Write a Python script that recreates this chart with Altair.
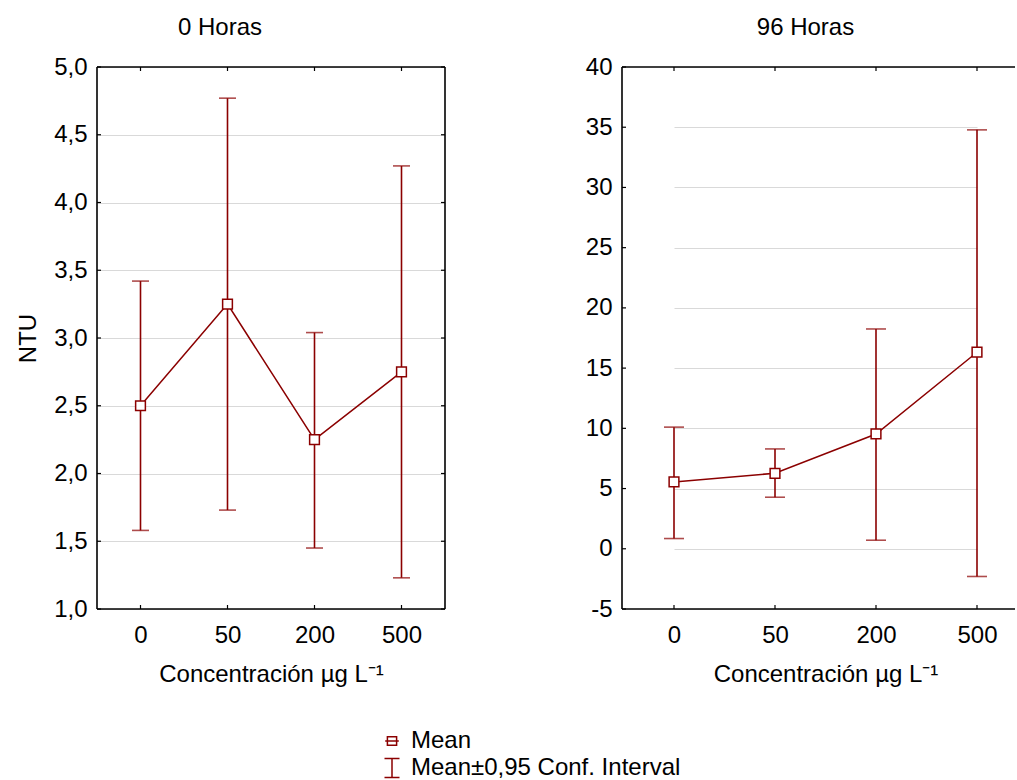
import altair as alt
import pandas as pd

# ---- data ----
conc = ["0", "50", "200", "500"]

mean_0h = [2.50, 3.25, 2.25, 2.75]
low_0h = [1.58, 1.73, 1.45, 1.23]
high_0h = [3.42, 4.77, 3.04, 4.27]

mean_96h = [5.55, 6.27, 9.53, 16.32]
low_96h = [0.85, 4.28, 0.71, -2.30]
high_96h = [10.10, 8.29, 18.25, 34.78]

yticks_0h = [1.0, 1.5, 2.0, 2.5, 3.0, 3.5, 4.0, 4.5, 5.0]
yticks_96h = [-5, 0, 5, 10, 15, 20, 25, 30, 35, 40]

legend_entries = ["Mean", "Mean±0,95 Conf. Interval"]

RED = "#8b0000"
FONT = "Liberation Sans"
FS = 24
H = 542
XTITLE = "Concentración µg L⁻¹"
PAD_L = 16
PAD_T = 16

mean_path = "M-0.68,0H0.68M-0.46,-0.42H0.46V0.42H-0.46Z"
err_path = "M-0.75,-0.95H0.75M0,-0.95V0.95M-0.75,0.95H0.75"


def panel(mean, low, high, title, tdx, yticks, fmt, width, xrange, cap, ytitle,
          right_border, with_legend):
    df = pd.DataFrame({"c": conc, "m": mean, "lo": low, "hi": high})
    if xrange is None:
        xs = alt.Scale(type="point", padding=0.5, domain=conc)
    else:
        xs = alt.Scale(type="point", padding=0, domain=conc, range=xrange)
    ys = alt.Scale(domain=[yticks[0], yticks[-1]], nice=False, zero=False)
    lbl = "replace(replace(datum.label, '.', ','), '\u2212', '-')"
    yaxis = alt.Axis(values=yticks, format=fmt, labelExpr=lbl, tickSize=0,
                     labelPadding=10, grid=True, gridColor="#d9d9d9",
                     gridWidth=1, domain=False,
                     title=ytitle if ytitle else None, titlePadding=13)
    xaxis = alt.Axis(tickSize=0, labelPadding=14, labelAngle=0, domain=False,
                     title=XTITLE, titlePadding=15, grid=False)
    base = alt.Chart(df)
    x = alt.X("c:O", scale=xs, axis=xaxis, sort=conc)

    rules = base.mark_rule(color=RED, strokeWidth=1.6).encode(
        x=x, y=alt.Y("lo:Q", scale=ys, axis=yaxis), y2="hi:Q")
    cap_lo = base.mark_tick(color=RED, thickness=1.6, size=cap, orient="horizontal").encode(
        x=x, y=alt.Y("lo:Q", scale=ys))
    cap_hi = base.mark_tick(color=RED, thickness=1.6, size=cap, orient="horizontal").encode(
        x=x, y=alt.Y("hi:Q", scale=ys))
    line = base.mark_line(color=RED, strokeWidth=1.5).encode(
        x=x, y=alt.Y("m:Q", scale=ys))
    pts = base.mark_point(shape="square", size=95, filled=True, fill="white",
                          stroke=RED, strokeWidth=1.5, opacity=1).encode(
        x=x, y=alt.Y("m:Q", scale=ys))

    # inward ticks on the frame
    tdf = pd.DataFrame({"v": yticks})
    ytick_l = alt.Chart(tdf).mark_rule(color="black", strokeWidth=1.2).encode(
        y=alt.Y("v:Q", scale=ys), x=alt.value(0), x2=alt.value(4))
    xtick_b = base.mark_rule(color="black", strokeWidth=1.2).encode(
        x=x, y=alt.value(H - 4), y2=alt.value(H))
    xtick_t = base.mark_rule(color="black", strokeWidth=1.2).encode(
        x=x, y=alt.value(0), y2=alt.value(4))

    # frame
    one = alt.Chart(pd.DataFrame({"k": [0]}))
    fl = one.mark_rule(color="black", strokeWidth=1.6).encode(
        x=alt.value(0), y=alt.value(0), y2=alt.value(H))
    ft = one.mark_rule(color="black", strokeWidth=1.6).encode(
        x=alt.value(0), x2=alt.value(width), y=alt.value(0))
    fb = one.mark_rule(color="black", strokeWidth=1.6).encode(
        x=alt.value(0), x2=alt.value(width), y=alt.value(H))

    layers = [ytick_l, xtick_b, xtick_t, fl, ft, fb]
    if right_border:
        ytick_r = alt.Chart(tdf).mark_rule(color="black", strokeWidth=1.2).encode(
            y=alt.Y("v:Q", scale=ys), x=alt.value(width - 4), x2=alt.value(width))
        fr = one.mark_rule(color="black", strokeWidth=1.6).encode(
            x=alt.value(width), y=alt.value(0), y2=alt.value(H))
        layers += [ytick_r, fr]
    layers += [rules, cap_lo, cap_hi, line, pts]

    if with_legend:
        ldf = pd.DataFrame({"s": legend_entries})
        leg = alt.Chart(ldf).mark_point(opacity=0, color=RED, filled=False).encode(
            x=alt.value(0), y=alt.value(0),
            shape=alt.Shape("s:N", scale=alt.Scale(domain=legend_entries,
                                                    range=[mean_path, err_path]),
                            legend=alt.Legend(title=None, orient="none",
                                              legendX=283, legendY=662,
                                              padding=0,
                                              labelFont=FONT, labelFontSize=FS,
                                              labelColor="black", labelLimit=0,
                                              symbolSize=400, symbolStrokeColor=RED,
                                              symbolFillColor="transparent",
                                              symbolStrokeWidth=1.5, symbolOpacity=1,
                                              rowPadding=2, labelOffset=7)))
        layers.append(leg)

    return alt.layer(*layers).properties(
        width=width, height=H,
        title=alt.TitleParams(title, font=FONT, fontSize=FS, fontWeight="normal",
                              color="black", offset=15, anchor="middle", dx=tdx))


left = panel(mean_0h, low_0h, high_0h, "0 Horas", -51, yticks_0h, ".1f", 348, None,
             17, "NTU", True, True)
right = panel(mean_96h, low_96h, high_96h, "96 Horas", -13, yticks_96h, "d", 393,
              [52, 355], 20, None, False, False)

chart = alt.hconcat(left, right, spacing=139).resolve_scale(
    y="independent", x="independent", shape="shared"
).properties(
    padding={"left": PAD_L, "top": PAD_T, "right": 0, "bottom": 0},
    background="white",
).configure_view(
    strokeWidth=0
).configure_axis(
    labelFont=FONT, labelFontSize=FS, labelColor="black",
    titleFont=FONT, titleFontSize=FS, titleColor="black", titleFontWeight="normal",
)

chart.save("out.html", embed_options={"renderer": "svg", "actions": False})
